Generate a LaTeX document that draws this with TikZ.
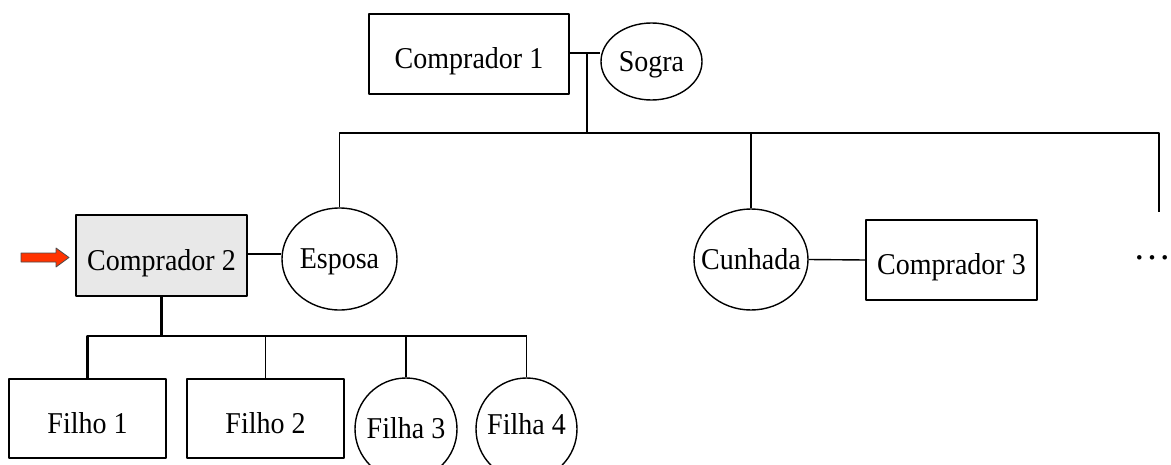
\documentclass[tikz,border=0pt]{standalone}
\usepackage{fontspec}
\usepackage{graphicx}
\setmainfont{Liberation Serif}
\usetikzlibrary{shapes.geometric}
\definecolor{arrowred}{HTML}{FF3300}
\definecolor{boxgray}{HTML}{E8E8E8}
\newcommand{\lbl}[1]{\scalebox{1}[1.08]{#1}}
\newcommand{\ovaltext}[1]{\makebox[0pt]{\lbl{#1}}}
\begin{document}
\begin{tikzpicture}[x=0.5pt, y=-0.5pt, font=\fontsize{14pt}{17pt}\selectfont, line join=round,
	box/.style={draw, rectangle, inner sep=0pt, line width=0.7pt, text height=14.6pt, text depth=0pt},
	oval/.style={draw, ellipse, inner sep=0pt, line width=0.7pt, text height=9.9pt, text depth=0pt},
	link/.style={line width=0.7pt}, bar/.style={line width=1.3pt}]
	\clip (0,0) rectangle (1171,465);
	\path
	(469,54) node[box, minimum width=100pt, minimum height=40pt] (c1) {\lbl{Comprador 1}}
	(651.5,61.5) node[oval, minimum width=50.5pt, minimum height=38.5pt] (sogra) {\ovaltext{Sogra}}
	(161.5,255.5) node[box, fill=boxgray, minimum width=85.5pt, minimum height=40.5pt] (c2) {\lbl{Comprador 2}}
	(339.5,259) node[oval, minimum width=57.5pt, minimum height=51pt] (esposa) {\ovaltext{Esposa}}
	(751,259.5) node[oval, minimum width=57pt, minimum height=50.5pt] (cunhada) {\ovaltext{Cunhada}}
	(951.5,260) node[box, minimum width=85.5pt, minimum height=40pt] (c3) {\lbl{Comprador 3}}
	(87.5,418.5) node[box, minimum width=78.5pt, minimum height=39.5pt] (filho1) {\lbl{Filho 1}}
	(265.5,418.5) node[box, minimum width=78.5pt, minimum height=39.5pt] (filho2) {\lbl{Filho 2}}
	(406,429) node[oval, minimum width=51pt, minimum height=51pt] (filha3) {\ovaltext{Filha 3}}
	(526.5,429) node[oval, minimum width=50.5pt, minimum height=51pt] (filha4) {\ovaltext{\raisebox{2pt}{Filha 4}}}
	(1152.5,259) node[anchor=base, inner sep=0pt, font=\fontsize{19pt}{20pt}\selectfont] (more) {…};
	\coordinate (couple) at (587,53);
	\coordinate (gen) at (587,133);
	\coordinate (kids) at (c2.south |- 0,336);
	\coordinate (moreTop) at (1159,133);
	\coordinate (moreEnd) at (1159,212);
	% casais
	\draw[link] (c1.east |- couple) -- (couple -| sogra.west);
	\draw[link] (c2.east |- 0,254) -- (esposa.west |- 0,254);
	\draw[link] (cunhada.east) -- (c3.west);
	% filhos de comprador 1
	\draw[bar] (couple) -- (gen) -- (gen -| cunhada.north);
	\draw[link] (esposa.north) -- (esposa.north |- gen) -- (gen);
	\draw[link] (cunhada.north) -- (cunhada.north |- gen) -- (moreTop) -- (moreEnd);
	% filhos de comprador 2
	\draw[bar] (c2.south) -- (kids);
	\draw[bar] (filho1.north) -- (filho1.north |- kids) -- (filha4.north |- kids);
	\draw[link] (filha4.north |- kids) -- (filha4.north);
	\foreach \k in {filho2, filha3} \draw[link] (\k.north) -- (\k.north |- kids);
	% seta
	\filldraw[fill=arrowred, draw=black!70, line width=0.4pt]
	(21,253) -- (56,253) -- (56,248) -- (69,257.5) -- (56,267) -- (56,262) -- (21,262) -- cycle;
\end{tikzpicture}
\end{document}
